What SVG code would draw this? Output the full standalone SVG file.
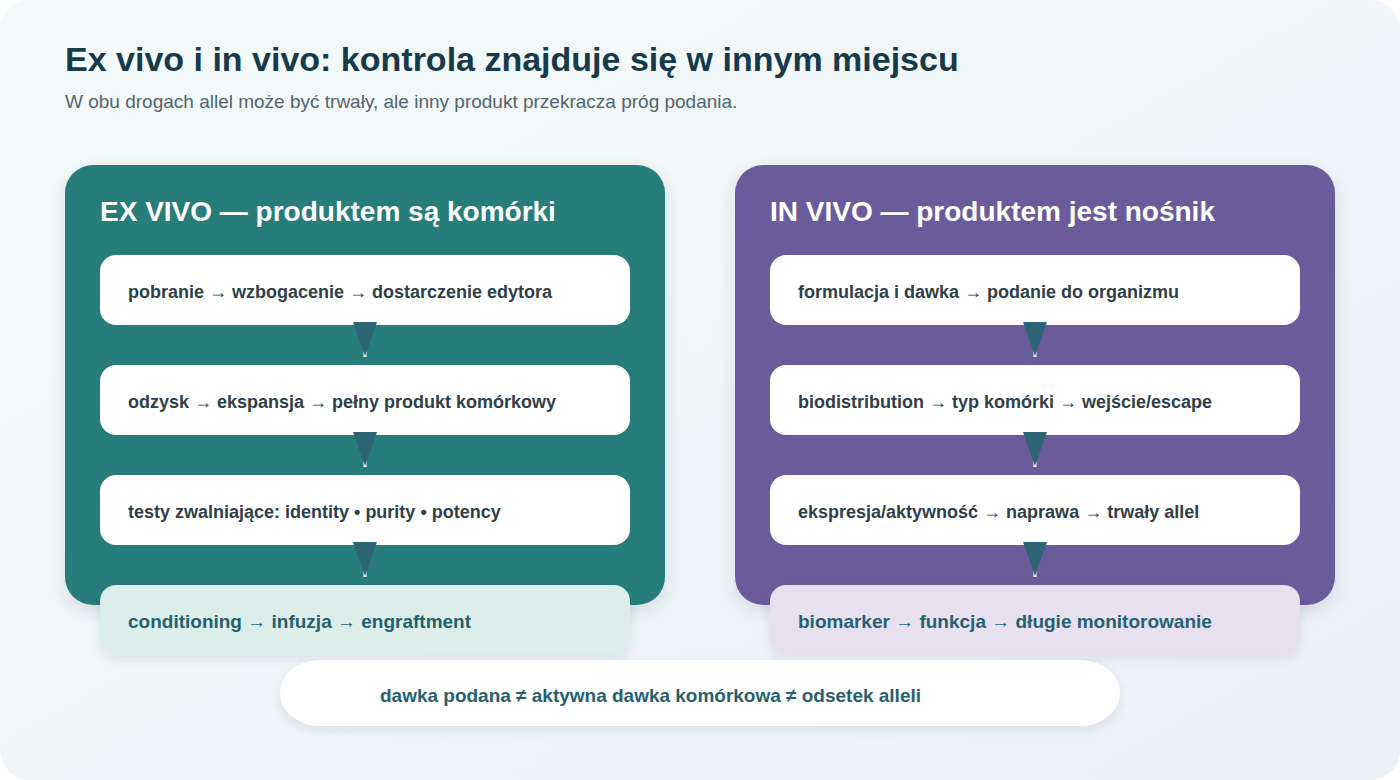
<svg xmlns="http://www.w3.org/2000/svg" width="1400" height="780" viewBox="0 0 1400 780">
<defs>
<linearGradient id="bg" x1="0" y1="0" x2="1" y2="1">
<stop offset="0" stop-color="#f4f9f9"/>
<stop offset="1" stop-color="#ecf1f8"/>
</linearGradient>
<filter id="sh" x="-10%" y="-10%" width="120%" height="130%">
<feDropShadow dx="0" dy="6" stdDeviation="8" flood-color="#2a3e55" flood-opacity="0.14"/>
</filter>
<filter id="sh2" x="-10%" y="-20%" width="120%" height="150%">
<feDropShadow dx="0" dy="4" stdDeviation="5" flood-color="#2a3e55" flood-opacity="0.10"/>
</filter>
</defs>
<style>
text{font-family:"Liberation Sans",Arial,sans-serif;font-weight:bold}
.title{font-size:34px;fill:#173a4b}
.sub{font-size:19px;fill:#52656f;font-weight:normal}
.head{font-size:28px;fill:#ffffff}
.box{fill:#ffffff}
.bt{font-size:18px;fill:#2f3f4a}
.ft{font-size:19px;fill:#25606e}
.arr{fill:#2d6574}
.stem{stroke:#ffffff;stroke-width:3}
</style>
<rect x="0" y="0" width="1400" height="780" rx="30" fill="url(#bg)"/>
<text class="title" x="65" y="71">Ex vivo i in vivo: kontrola znajduje się w innym miejscu</text>
<text class="sub" x="65" y="108">W obu drogach allel może być trwały, ale inny produkt przekracza próg podania.</text>

<g id="exvivo">
<rect x="65" y="165" width="600" height="440" rx="28" fill="#267d7a" filter="url(#sh)"/>
<text class="head" x="100" y="221">EX VIVO — produktem są komórki</text>
</g>
<g id="invivo">
<rect x="735" y="165" width="600" height="440" rx="28" fill="#6a5c9a" filter="url(#sh)"/>
<text class="head" x="770" y="221">IN VIVO — produktem jest nośnik</text>
</g>

<g id="ex1"><rect class="box" x="100" y="255" width="530" height="70" rx="16"/><text class="bt" x="128" y="298">pobranie → wzbogacenie → dostarczenie edytora</text></g>
<g id="ex2"><rect class="box" x="100" y="365" width="530" height="70" rx="16"/><text class="bt" x="128" y="408">odzysk → ekspansja → pełny produkt komórkowy</text></g>
<g id="ex3"><rect class="box" x="100" y="475" width="530" height="70" rx="16"/><text class="bt" x="128" y="518">testy zwalniające: identity • purity • potency</text></g>
<g id="ex4"><rect x="100" y="585" width="530" height="70" rx="16" fill="#dbeeea" filter="url(#sh2)"/><text class="ft" x="128" y="628">conditioning → infuzja → engraftment</text></g>

<g id="in1"><rect class="box" x="770" y="255" width="530" height="70" rx="16"/><text class="bt" x="798" y="298">formulacja i dawka → podanie do organizmu</text></g>
<g id="in2"><rect class="box" x="770" y="365" width="530" height="70" rx="16"/><text class="bt" x="798" y="408">biodistribution → typ komórki → wejście/escape</text></g>
<g id="in3"><rect class="box" x="770" y="475" width="530" height="70" rx="16"/><text class="bt" x="798" y="518">ekspresja/aktywność → naprawa → trwały allel</text></g>
<g id="in4"><rect x="770" y="585" width="530" height="70" rx="16" fill="#e6e0f1" filter="url(#sh2)"/><text class="ft" x="798" y="628">biomarker → funkcja → długie monitorowanie</text></g>

<g id="connectors">
<line class="stem" x1="365" y1="326" x2="365" y2="357"/><polygon class="arr" points="353,322 377,322 365,356"/>
<line class="stem" x1="365" y1="436" x2="365" y2="467"/><polygon class="arr" points="353,432 377,432 365,466"/>
<line class="stem" x1="365" y1="546" x2="365" y2="577"/><polygon class="arr" points="353,542 377,542 365,576"/>
<line class="stem" x1="1035" y1="326" x2="1035" y2="357"/><polygon class="arr" points="1023,322 1047,322 1035,356"/>
<line class="stem" x1="1035" y1="436" x2="1035" y2="467"/><polygon class="arr" points="1023,432 1047,432 1035,466"/>
<line class="stem" x1="1035" y1="546" x2="1035" y2="577"/><polygon class="arr" points="1023,542 1047,542 1035,576"/>
</g>

<g id="summary">
<rect x="280" y="660" width="840" height="66" rx="40" ry="33" fill="#ffffff" filter="url(#sh2)"/>
<text class="ft" x="380" y="702" textLength="541" lengthAdjust="spacingAndGlyphs">dawka podana ≠ aktywna dawka komórkowa ≠ odsetek alleli</text>
</g>
</svg>
